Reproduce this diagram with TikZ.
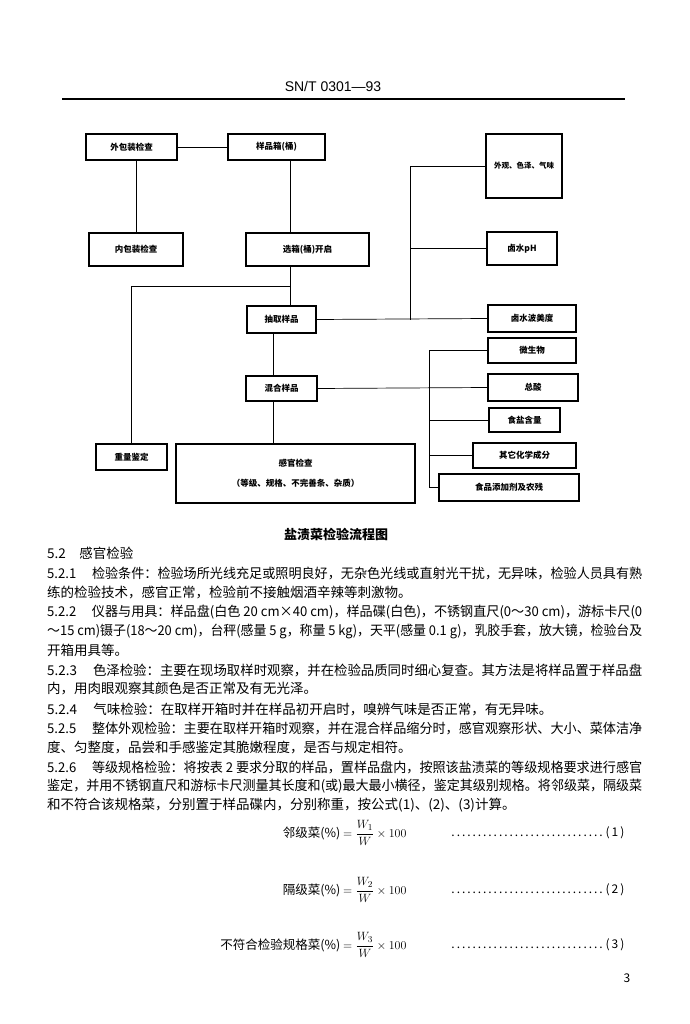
\documentclass[tikz,border=0pt]{standalone}
\usepackage{fontspec}
\usepackage{graphicx}
\setmainfont{Noto Sans CJK SC}
\newfontfamily\entete{Liberation Sans}
\newcommand\pleine[1]{\resizebox{595pt}{\height}{#1}}
\newcommand\corps{\fontsize{13.5}{16}\selectfont}
\begin{document}
\begin{tikzpicture}[x=1pt,y=-1pt,
  boite/.style={draw,line width=1.1pt,inner sep=0pt,font=\bfseries\fontsize{8.5}{10}\selectfont},
  ligne/.style={line width=0.7pt},
  texte/.style={anchor=west,inner sep=0pt,font=\corps}]
\useasboundingbox (0,0) rectangle (689,1024);
% en-tete
\node[font=\entete\fontsize{14}{16}\selectfont] (entete) at (333,86) {SN/T 0301—93};
\draw [line width=1.3pt] (62,99) -- (625,99);
% organigramme
\node[boite,minimum width=91pt,minimum height=26pt] (wbz) at (131.5,147) {外包装检查};
\node[boite,minimum width=97pt,minimum height=26pt] (ypx) at (276.5,147) {样品箱(桶)};
\node[boite,minimum width=94pt,minimum height=33pt] (nbz) at (136,249.5) {内包装检查};
\node[boite,minimum width=123pt,minimum height=33pt] (kq) at (307.5,249.5) {选箱(桶)开启};
\node[boite,minimum width=69pt,minimum height=27pt] (cq) at (281.5,319.5) {抽取样品};
\node[boite,minimum width=71pt,minimum height=25pt] (hh) at (281.5,388.5) {混合样品};
\node[boite,minimum width=71pt,minimum height=26pt] (zl) at (131.5,457) {重量鉴定};
\node[boite,minimum width=239pt,minimum height=59pt,align=center] (gg) at (295.5,473.5) {感官检查\\[10pt]（等级、规格、不完善条、杂质）};
\node[boite,minimum width=76pt,minimum height=64pt,font=\bfseries\fontsize{7.5}{9}\selectfont] (wg) at (524,166) {外观、色泽、气味};
\node[boite,minimum width=70pt,minimum height=33pt] (ph) at (522,248.5) {卤水pH};
\node[boite,minimum width=88pt,minimum height=27pt] (bmd) at (532,318.5) {卤水波美度};
\node[boite,minimum width=88pt,minimum height=25pt] (wsw) at (532,350.5) {微生物};
\node[boite,minimum width=90pt,minimum height=27pt] (zs) at (533,387.5) {总酸};
\node[boite,minimum width=71pt,minimum height=24pt] (sy) at (524.5,420) {食盐含量};
\node[boite,minimum width=103pt,minimum height=25pt] (qt) at (524.5,455.5) {其它化学成分};
\node[boite,minimum width=140pt,minimum height=27pt] (tjj) at (509,487.5) {食品添加剂及农残};
\coordinate (c1) at (290,286);
\coordinate (c2) at (273,0);
\coordinate (c3) at (410,0);
\coordinate (c4) at (429,0);
\draw [ligne] (wbz) -- (ypx);
\draw [ligne] (nbz.north |- wbz.south) -- (nbz.north);
\draw [ligne] (ypx.south -| c1) -- (kq.north -| c1);
\draw [ligne] (kq.south -| c1) -- (cq.north -| c1);
\draw [ligne] (c1) -| (zl.north);
\draw [ligne] (cq.south -| c2) -- (hh.north -| c2);
\draw [ligne] (hh.south -| c2) -- (gg.north -| c2);
\draw [ligne] (cq.east) -- (bmd.west);
\draw [ligne] (wg.west) -| (c3 |- cq.east);
\draw [ligne] (ph.west) -- (ph.west -| c3);
\draw [ligne] (hh.east) -- (zs.west);
\draw [ligne] (wsw.west) -| (c4 |- tjj.west) -- (tjj.west);
\draw [ligne] (sy.west) -- (sy.west -| c4);
\draw [ligne] (qt.west) -- (qt.west -| c4);
\node[font=\bfseries\fontsize{13}{15}\selectfont] (titre) at (336,534) {盐渍菜检验流程图};
% texte
\node[texte] (s52) at (47,553) {5.2\hspace{1em}感官检验};
\node[texte] (l1) at (47,573) {\pleine{5.2.1\hspace{1.2em}检验条件：检验场所光线充足或照明良好，无杂色光线或直射光干扰，无异味，检验人员具有熟}};
\node[texte] (l2) at (47,592) {练的检验技术，感官正常，检验前不接触烟酒辛辣等刺激物。};
\node[texte] (l3) at (47,612) {\pleine{5.2.2\hspace{1.2em}仪器与用具：样品盘(白色 20 cm×40 cm)，样品碟(白色)，不锈钢直尺(0～30 cm)，游标卡尺(0}};
\node[texte] (l4) at (47,631) {\pleine{～15 cm)镊子(18～20 cm)，台秤(感量 5 g，称量 5 kg)，天平(感量 0.1 g)，乳胶手套，放大镜，检验台及}};
\node[texte] (l5) at (47,650) {开箱用具等。};
\node[texte] (l6) at (47,670) {\pleine{5.2.3\hspace{1.2em}色泽检验：主要在现场取样时观察，并在检验品质同时细心复查。其方法是将样品置于样品盘}};
\node[texte] (l7) at (47,689) {内，用肉眼观察其颜色是否正常及有无光泽。};
\node[texte] (l8) at (47,709) {5.2.4\hspace{1.2em}气味检验：在取样开箱时并在样品初开启时，嗅辨气味是否正常，有无异味。};
\node[texte] (l9) at (47,728) {\pleine{5.2.5\hspace{1.2em}整体外观检验：主要在取样开箱时观察，并在混合样品缩分时，感官观察形状、大小、菜体洁净}};
\node[texte] (l10) at (47,747) {度、匀整度，品尝和手感鉴定其脆嫩程度，是否与规定相符。};
\node[texte] (l11) at (47,767) {\pleine{5.2.6\hspace{1.2em}等级规格检验：将按表 2 要求分取的样品，置样品盘内，按照该盐渍菜的等级规格要求进行感官}};
\node[texte] (l12) at (47,786) {\pleine{鉴定，并用不锈钢直尺和游标卡尺测量其长度和(或)最大最小横径，鉴定其级别规格。将邻级菜，隔级菜}};
\node[texte] (l13) at (47,805) {和不符合该规格菜，分别置于样品碟内，分别称重，按公式(1)、(2)、(3)计算。};
% formules
\node[anchor=east,font=\fontsize{12.5}{15}\selectfont] (f1) at (410,833) {邻级菜(\%) $=\displaystyle\frac{W_1}{W}\times 100$};
\node[anchor=east,font=\fontsize{12.5}{15}\selectfont] (f2) at (410,890) {隔级菜(\%) $=\displaystyle\frac{W_2}{W}\times 100$};
\node[anchor=east,font=\fontsize{12.5}{15}\selectfont] (f3) at (410,945) {不符合检验规格菜(\%) $=\displaystyle\frac{W_3}{W}\times 100$};
\node[anchor=east,font=\fontsize{12}{14}\selectfont] (n1) at (628,833) {\hbox to 176pt{\dotfill(\,1\,)}};
\node[anchor=east,font=\fontsize{12}{14}\selectfont] (n2) at (628,890) {\hbox to 176pt{\dotfill(\,2\,)}};
\node[anchor=east,font=\fontsize{12}{14}\selectfont] (n3) at (628,945) {\hbox to 176pt{\dotfill(\,3\,)}};
\node[font=\fontsize{12}{14}\selectfont] (page) at (627,978) {3};
\end{tikzpicture}
\end{document}
